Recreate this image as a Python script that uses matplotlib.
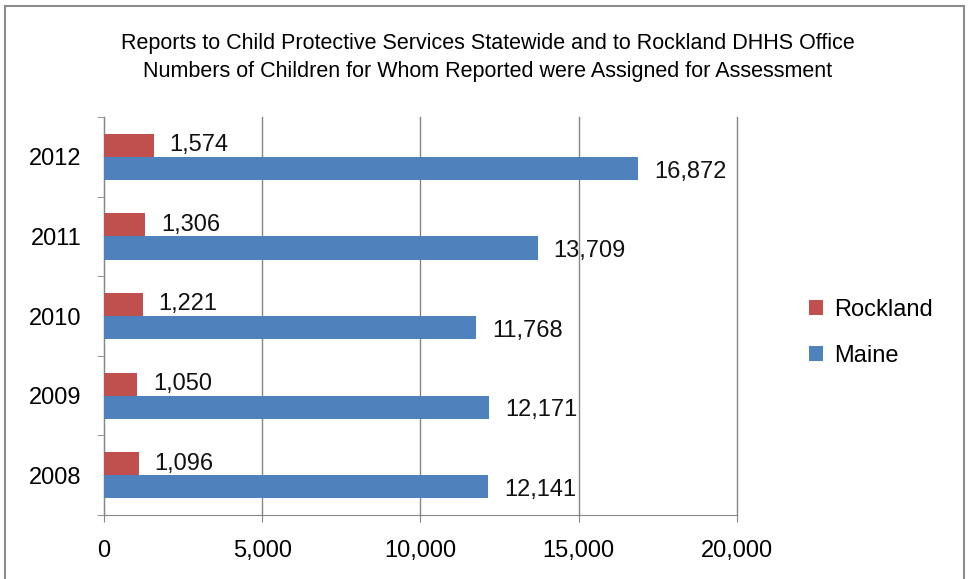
import matplotlib
matplotlib.use("Agg")
import matplotlib.pyplot as plt
from matplotlib.patches import Rectangle
import numpy as np

years = ["2008", "2009", "2010", "2011", "2012"]
rockland = [1096, 1050, 1221, 1306, 1574]
maine = [12141, 12171, 11768, 13709, 16872]
x_ticks = [0, 5000, 10000, 15000, 20000]

RED = "#C0504D"
BLUE = "#4F81BD"

plt.rcParams["font.family"] = ["Liberation Sans", "DejaVu Sans"]

fig = plt.figure(figsize=(9.69, 5.79), dpi=100, facecolor="white")

# outer chart border
fig.patches.append(Rectangle((0.005, -0.01), 0.99, 1.0, transform=fig.transFigure,
                             fill=False, edgecolor="#8c8c8c", linewidth=1.5))

ax = fig.add_axes([0.1073, 0.1105, 0.6533, 0.6874])

pos = np.arange(len(years))
h = 0.29
ax.barh(pos + h / 2, rockland, height=h, color=RED, label="Rockland", zorder=3)
ax.barh(pos - h / 2, maine, height=h, color=BLUE, label="Maine", zorder=3)

for p, v in zip(pos, rockland):
    ax.text(v + 500, p + h / 2, f"{v:,}", va="center", ha="left", fontsize=17, color="#111111")
for p, v in zip(pos, maine):
    ax.text(v + 500, p - h / 2 - 0.04, f"{v:,}", va="center", ha="left", fontsize=17, color="#111111")

ax.set_xlim(0, 20000)
ax.set_ylim(-0.5, len(years) - 0.5)
ax.set_xticks(x_ticks)
ax.set_xticklabels([f"{t:,}" for t in x_ticks], fontsize=17)
ax.set_yticks(pos)
ax.set_yticklabels(years, fontsize=17)
ax.set_yticks(np.arange(-0.5, len(years)), minor=True)
ax.tick_params(axis="y", which="major", length=0, pad=16)
ax.tick_params(axis="y", which="minor", length=5, color="#868686", direction="out")
ax.tick_params(axis="x", length=5, color="#868686", direction="out", pad=13)

ax.grid(axis="x", color="#868686", linewidth=1, zorder=0)
for gl in ax.get_xgridlines():
    gl.set_clip_on(False)
for s in ["top", "right"]:
    ax.spines[s].set_visible(False)
for s in ["left", "bottom"]:
    ax.spines[s].set_color("#868686")

handles, labels = ax.get_legend_handles_labels()
fig.legend(handles, labels, loc="center left", bbox_to_anchor=(0.813, 0.425),
           frameon=False, fontsize=17, handlelength=0.6, handleheight=0.6,
           labelspacing=1.0, handletextpad=0.45)

fig.text(0.503, 0.925, "Reports to Child Protective Services Statewide and to Rockland DHHS Office",
         ha="center", va="center", fontsize=15.5)
fig.text(0.503, 0.877, "Numbers of Children for Whom Reported were Assigned for Assessment",
         ha="center", va="center", fontsize=15.5)

fig.savefig("out.png", dpi=100, facecolor="white")
